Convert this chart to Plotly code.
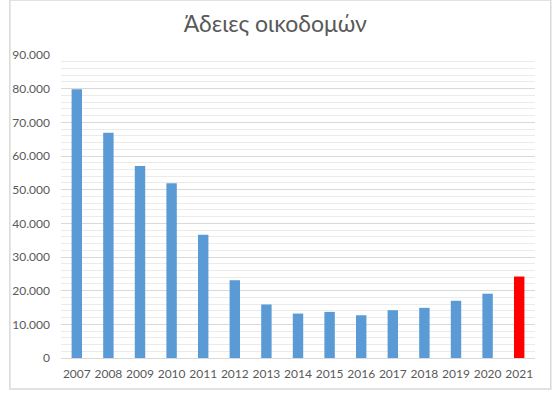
import plotly.graph_objects as go

years = ["2007", "2008", "2009", "2010", "2011", "2012", "2013", "2014",
         "2015", "2016", "2017", "2018", "2019", "2020", "2021"]
permits = [79800, 66900, 57000, 51900, 36600, 23100, 15900, 13200,
           13700, 12700, 14200, 14900, 17000, 19100, 24200]
bar_colors = ["#5B9BD5"] * 14 + ["#FF0000"]
y_ticks = [0, 10000, 20000, 30000, 40000, 50000, 60000, 70000, 80000, 90000]

W, H = 554, 393
ml, mr, mt, mb = 53, 19, 55, 35
pw, ph = W - ml - mr, H - mt - mb

fig = go.Figure(go.Bar(x=years, y=permits, marker=dict(color=bar_colors, line=dict(width=0)),
                       width=0.33))

def px_x(v):
    return (v - ml) / pw

def px_y(v):
    return (H - mb - v) / ph

fig.update_layout(
    width=W, height=H,
    margin=dict(l=ml, r=mr, t=mt, b=mb),
    paper_bgcolor="white", plot_bgcolor="white",
    separators=",.",
    font=dict(family="Lato, Open Sans, sans-serif", color="#595959", size=12),
    title=dict(text="Άδειες οικοδομών", x=0.497, xref="container", xanchor="center",
               y=1 - 24 / H, yanchor="middle",
               font=dict(size=23, color="#595959", family="Lato, Open Sans, sans-serif")),
    showlegend=False,
    xaxis=dict(showgrid=False, showline=True, linecolor="#d9d9d9", linewidth=1,
               ticks="", ticklabelstandoff=5, tickfont=dict(size=12, color="#595959")),
    yaxis=dict(range=[0, 90000], tickvals=y_ticks, tickformat=",d",
               showgrid=True, gridcolor="#d9d9d9", gridwidth=1, zeroline=False,
               showline=False, ticks="", ticklabelstandoff=10,
               tickfont=dict(size=12, color="#595959"),
               minor=dict(dtick=2000, showgrid=True, gridcolor="#ebebeb", gridwidth=1)),
    shapes=[dict(type="rect", xref="paper", yref="paper",
                 x0=px_x(1), x1=px_x(551), y0=px_y(389), y1=px_y(0),
                 line=dict(color="#d9d9d9", width=1.5), fillcolor="rgba(0,0,0,0)",
                 layer="below")],
)

fig.write_html("out.html")
